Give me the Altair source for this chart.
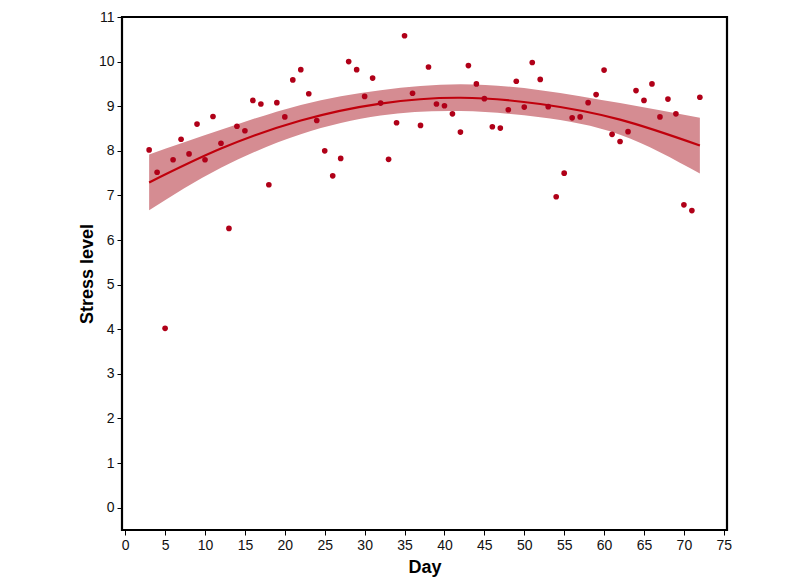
import altair as alt
import pandas as pd

days = list(range(3, 73))
stress = [8.02, 7.52, 4.02, 7.80, 8.26, 7.93, 8.60, 7.80, 8.77, 8.17,
          6.26, 8.55, 8.45, 9.13, 9.05, 7.24, 9.08, 8.76, 9.59, 9.82,
          9.28, 8.68, 8.00, 7.44, 7.83, 10.00, 9.82, 9.22, 9.63, 9.07,
          7.81, 8.63, 10.58, 9.29, 8.57, 9.88, 9.05, 9.01, 8.83, 8.42,
          9.91, 9.50, 9.17, 8.54, 8.51, 8.92, 9.56, 8.98, 9.98, 9.60,
          8.99, 6.97, 7.50, 8.74, 8.76, 9.08, 9.26, 9.81, 8.37, 8.21,
          8.43, 9.35, 9.13, 9.50, 8.76, 9.16, 8.83, 6.79, 6.66, 9.20]

# Fitted curve and confidence band
fit_days = [3, 12, 22, 32, 42, 52, 62, 72]
fit_val = [7.29, 8.05, 8.68, 9.06, 9.19, 9.05, 8.70, 8.12]
fit_lo = [6.67, 7.62, 8.37, 8.79, 8.89, 8.75, 8.36, 7.49]
fit_hi = [7.92, 8.47, 9.03, 9.36, 9.49, 9.36, 9.07, 8.74]

x_ticks = list(range(0, 80, 5))
y_ticks = list(range(0, 12))

pts = pd.DataFrame({"Day": days, "Stress": stress})
fit = pd.DataFrame({"Day": fit_days, "Fit": fit_val, "Lo": fit_lo, "Hi": fit_hi})

FONT = "Liberation Sans"

xs = alt.Scale(domain=[-0.4, 75.4], nice=False, zero=False)
ys = alt.Scale(domain=[-0.5, 11], nice=False, zero=False)

x_axis = alt.Axis(values=x_ticks, title="Day", grid=False, domain=False,
                  tickColor="black", tickSize=5, labelFontSize=14,
                  labelColor="#111", labelFont=FONT, titleFont=FONT,
                  titleFontSize=18, titleFontWeight="bold", titleColor="black",
                  titlePadding=6, labelPadding=3)
y_axis = alt.Axis(values=y_ticks, title="Stress level", grid=False, domain=False,
                  tickColor="black", tickSize=5, labelFontSize=14,
                  labelColor="#111", labelFont=FONT, titleFont=FONT,
                  titleFontSize=18, titleFontWeight="bold", titleColor="black",
                  titlePadding=2, labelPadding=3)

band = alt.Chart(fit).mark_area(color="#d58c92", opacity=1, interpolate="natural").encode(
    x=alt.X("Day:Q", scale=xs, axis=x_axis),
    y=alt.Y("Lo:Q", scale=ys, axis=y_axis),
    y2="Hi:Q",
)

line = alt.Chart(fit).mark_line(color="#c0000c", strokeWidth=2.2, interpolate="natural").encode(
    x=alt.X("Day:Q", scale=xs),
    y=alt.Y("Fit:Q", scale=ys),
)

points = alt.Chart(pts).mark_circle(color="#b00018", size=32, opacity=1).encode(
    x=alt.X("Day:Q", scale=xs),
    y=alt.Y("Stress:Q", scale=ys),
)

chart = alt.layer(band, line, points).properties(
    width=605, height=513,
    background="white",
    autosize=alt.AutoSizeParams(type="none"),
    padding={"left": 114, "top": 9, "right": 20, "bottom": 50},
).configure_view(stroke="black", strokeWidth=2.2)

chart.save("out.html", embed_options={"renderer": "svg", "actions": False})
